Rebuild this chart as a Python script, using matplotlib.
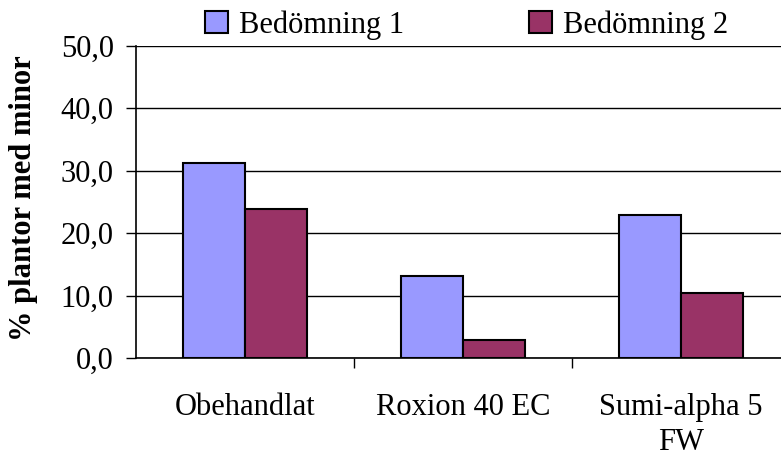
import matplotlib
matplotlib.use("Agg")
import matplotlib.pyplot as plt
import numpy as np

categories = ["Obehandlat", "Roxion 40 EC", "Sumi-alpha 5\nFW"]
bedomning_1 = [31.3, 13.2, 23.0]
bedomning_2 = [23.9, 2.9, 10.5]
series_names = ["Bedömning 1", "Bedömning 2"]
yticks = [0, 10, 20, 30, 40, 50]
ytick_labels = ["0,0", "10,0", "20,0", "30,0", "40,0", "50,0"]

plt.rcParams["font.family"] = ["Liberation Serif", "DejaVu Serif"]
FS = 22

fig = plt.figure(figsize=(7.81, 4.63), dpi=100)
W, H = 781, 463
# axes runs past the right figure edge, like the cropped original
ax = fig.add_axes([136 / W, 1 - 358.3 / H, (790 - 136) / W, 312.5 / H])

x = np.arange(len(categories))
w = 0.284
ax.bar(x - w / 2, bedomning_1, w, color="#9999FF", edgecolor="black", linewidth=1.5,
       label=series_names[0], zorder=3)
ax.bar(x + w / 2, bedomning_2, w, color="#993366", edgecolor="black", linewidth=1.5,
       label=series_names[1], zorder=3)

ax.set_xlim(-0.5, 2.5)
ax.set_ylim(0, 50)
ax.set_yticks(yticks)
ax.set_yticklabels(ytick_labels, fontsize=FS)
ax.yaxis.grid(True, color="black", linewidth=1.0, zorder=0)

# category tick marks sit between groups, labels in the middle
ax.set_xticks([0.5, 1.5, 2.5])
ax.set_xticklabels([])
ax.set_xticks(x, minor=True)
ax.set_xticklabels(categories, minor=True, fontsize=FS, linespacing=1.25)
ax.tick_params(axis="x", which="major", direction="out", length=7, width=1)
ax.tick_params(axis="x", which="minor", length=0, pad=25)
ax.tick_params(axis="y", direction="out", length=7, width=1, pad=9)

for s in ["top", "right"]:
    ax.spines[s].set_visible(False)
ax.spines["left"].set_linewidth(1.2)
ax.spines["bottom"].set_linewidth(1.2)

fig.text(24 / W, 1 - 198 / H, "% plantor med minor", fontsize=FS, fontweight="bold",
         rotation=90, ha="center", va="center")

fig.legend(loc="upper left", bbox_to_anchor=(202 / W, 1 - 7 / H), ncol=2, frameon=False,
           fontsize=FS, handlelength=0.75, handleheight=0.75, handletextpad=0.35,
           columnspacing=4.1, borderaxespad=0.0, borderpad=0.1)

fig.savefig("out.png", dpi=100)
